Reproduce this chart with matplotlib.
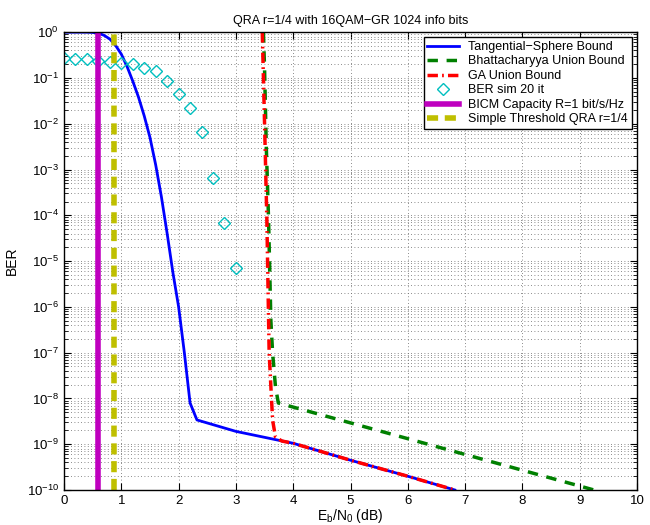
import matplotlib
matplotlib.use("Agg")
import matplotlib.pyplot as plt
import numpy as np
from matplotlib.ticker import LogLocator, NullFormatter, MultipleLocator

plt.rcParams["font.family"] = ["Liberation Sans", "DejaVu Sans"]
plt.rcParams["mathtext.fontset"] = "custom"
plt.rcParams["mathtext.rm"] = "Liberation Sans"
plt.rcParams["mathtext.it"] = "Liberation Sans:italic"

# tangential-sphere bound
tsb_x = [0.0, 0.4, 0.5, 0.6, 0.7, 0.8, 0.9, 1.0, 1.1, 1.2, 1.3, 1.4, 1.5, 1.6, 1.7, 1.8, 1.9, 2.0, 2.1, 2.2, 2.32,
         3.0, 4.0, 5.0, 6.0, 6.82]
tsb_logy = [0.0, 0.0, -0.005, -0.02, -0.07, -0.15, -0.29, -0.48, -0.75, -1.07, -1.42, -1.83, -2.3, -2.9, -3.6,
            -4.4, -5.25, -6.0, -7.0, -8.1, -8.47, -8.72, -8.98, -9.35, -9.7, -10.0]

# bhattacharyya union bound
bub_x = [3.48, 3.5, 3.53, 3.57, 3.61, 3.64, 3.69, 3.74, 9.25]
bub_logy = [0.0, -0.8, -2.5, -4.1, -6.3, -7.0, -7.74, -8.1, -10.0]

# GA union bound
ga_x = [3.46, 3.5, 3.54, 3.57, 3.58, 3.61, 3.64, 3.69, 3.8, 4.0, 5.0, 6.0, 6.82]
ga_logy = [0.0, -2.0, -4.1, -6.3, -7.0, -7.74, -8.47, -8.84, -8.93, -8.98, -9.35, -9.7, -10.0]

# simulation points, 20 iterations
sim_x = [0.0, 0.2, 0.4, 0.6, 0.8, 1.0, 1.2, 1.4, 1.6, 1.8, 2.0, 2.2, 2.4, 2.6, 2.8, 3.0]
sim_ber = [0.274, 0.265, 0.26, 0.24, 0.228, 0.217, 0.2, 0.163, 0.142, 0.0875, 0.0439, 0.0224, 0.00668,
           6.6e-4, 6.7e-5, 7.0e-6]

bicm_cap = 0.6
threshold = 0.88

fig = plt.figure(figsize=(6.5, 5.25), dpi=100)
ax = fig.add_axes([0.0985, 0.0667, 0.8815, 0.872])

ax.semilogy(tsb_x, 10.0 ** np.array(tsb_logy), color="#0000ff", lw=2, label="Tangential\u2212Sphere Bound")
ax.semilogy(bub_x, 10.0 ** np.array(bub_logy), color="#008000", lw=2.5, ls=(0, (3, 2.5)),
            label="Bhattacharyya Union Bound")
ax.semilogy(ga_x, 10.0 ** np.array(ga_logy), color="#ff0000", lw=2.5, ls=(0, (3, 1.2, 0.5, 1.2)),
            label="GA Union Bound")
ax.semilogy(sim_x, sim_ber, ls="none", marker="D", ms=6.5, mfc="none", mec="#00bfbf", mew=1,
            label="BER sim 20 it")
ax.axvline(bicm_cap, color="#bf00bf", lw=4, label="BICM Capacity R=1 bit/s/Hz")
ax.axvline(threshold, color="#bfbf00", lw=4, ls=(0, (2, 1.2)), label="Simple Threshold QRA r=1/4")

ax.set_xlim(0, 10)
ax.set_ylim(1e-10, 1)
ax.xaxis.set_major_locator(MultipleLocator(1))
ax.yaxis.set_major_locator(LogLocator(base=10, numticks=20))
ax.yaxis.set_minor_locator(LogLocator(base=10, subs=np.arange(2, 10), numticks=20))
ax.yaxis.set_minor_formatter(NullFormatter())
ax.tick_params(which="both", direction="in", top=True, right=True, labelsize=9.5)
ax.tick_params(which="major", length=5)
ax.tick_params(which="minor", length=3)
ax.grid(True, which="major", ls=(0, (1, 3)), color="#666666", lw=0.6)
ax.grid(True, which="minor", axis="y", ls=(0, (1, 3)), color="#666666", lw=0.6)
for s in ax.spines.values():
    s.set_linewidth(1)

ax.set_title("QRA r=1/4 with 16QAM\u2212GR 1024 info bits", fontsize=9)
ax.set_xlabel("E$_\\mathrm{b}$/N$_\\mathrm{0}$ (dB)", fontsize=10, labelpad=0)
ax.set_ylabel("BER", fontsize=10, labelpad=6)

leg = ax.legend(loc="upper right", fontsize=9, fancybox=False, framealpha=1, edgecolor="black",
                borderaxespad=0.4, handlelength=2.5, labelspacing=0.2, borderpad=0.3)
leg.get_frame().set_linewidth(1)

fig.savefig("out.png", dpi=100)
